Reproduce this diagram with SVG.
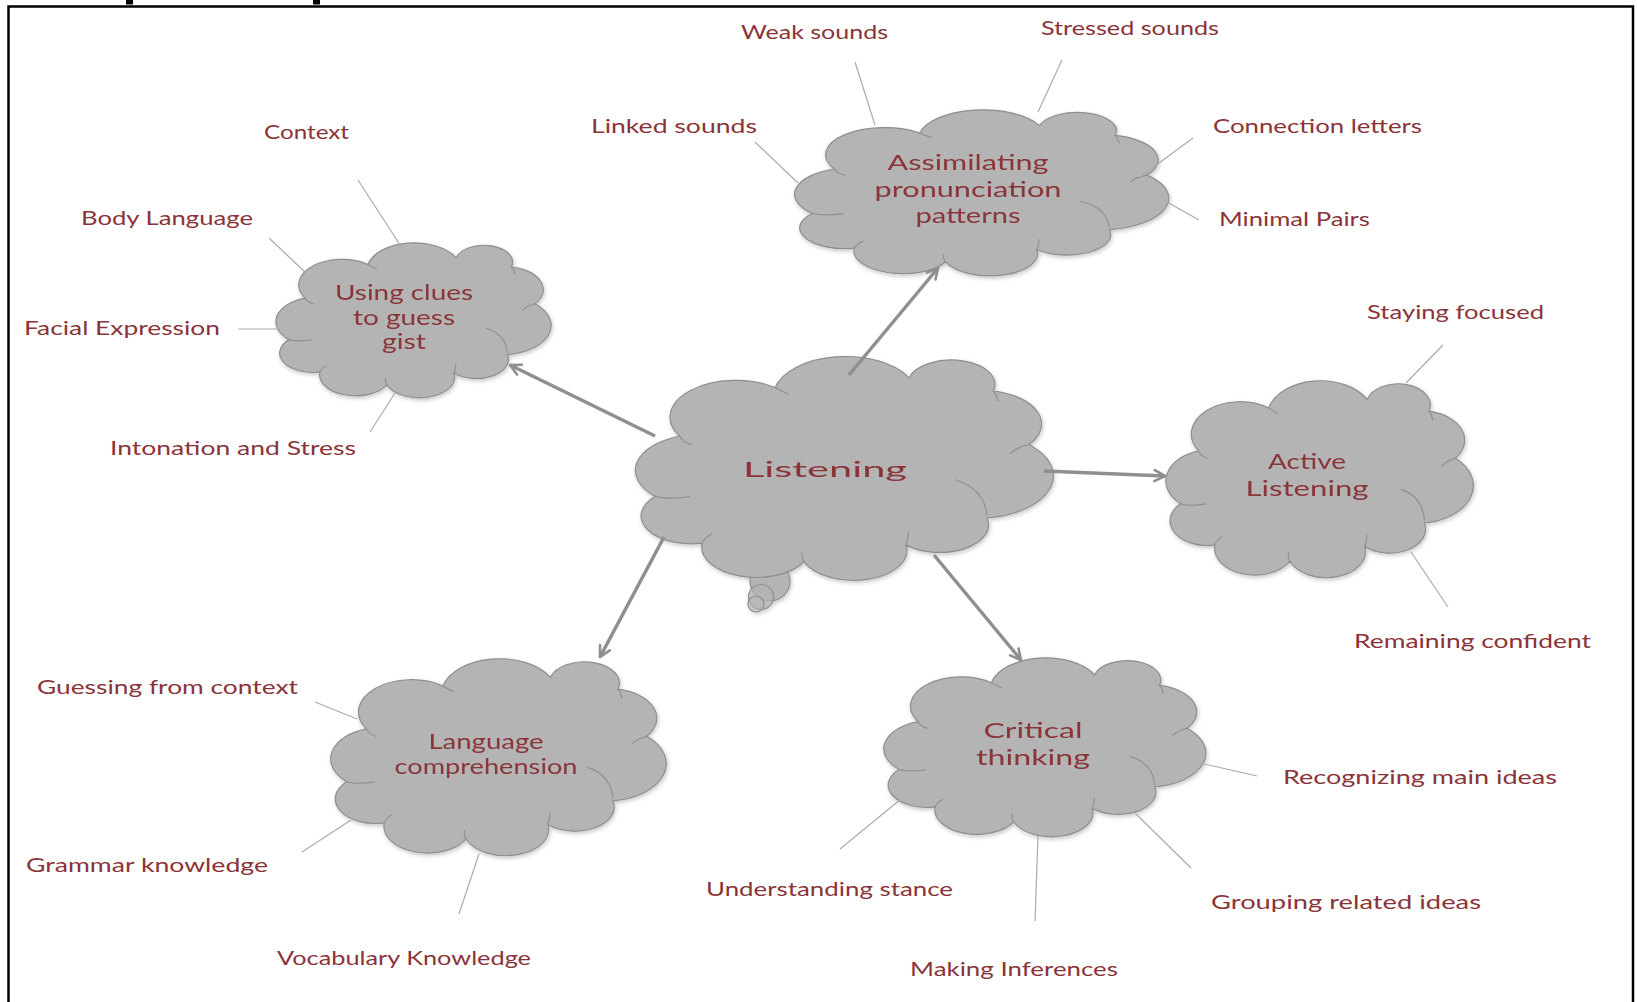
<svg xmlns="http://www.w3.org/2000/svg" width="1637" height="1002" viewBox="0 0 1637 1002">
  <style>
    .cloud { fill: #b4b4b4; stroke: #8e8e8e; stroke-width: 1.2; }
    .crease { fill: none; stroke: #8e8e8e; stroke-width: 1.1; }
    .node-text { font-family: Lato, "Open Sans", sans-serif; fill: #8a3439; font-size: 21px; text-anchor: middle; }
    .label { font-family: Lato, "Open Sans", sans-serif; fill: #8a3439; font-size: 20px; }
    .arrow { stroke: #8f8f8f; stroke-width: 3.5; fill: none; marker-end: url(#head); }
    .leaf { stroke: #ababab; stroke-width: 1.2; fill: none; }
  </style>
  <defs>
    <!-- cloud outline in a 100x100 box, scaled per node -->
    <path id="cloud-shape" class="cloud" vector-effect="non-scaling-stroke"
      d="M 8.9 33.6 A 16.4 16.4 0 0 1 32.7 11.9 A 18 18 0 0 1 66.1 7.5 A 10.9 10.9 0 0 1 87.1 13.4 A 15 15 0 0 1 96 37.3 A 19 19 0 0 1 85.5 70.1 A 12.2 12.2 0 0 1 65.3 82.1 A 13.3 13.3 0 0 1 39.9 89.6 A 13.6 13.6 0 0 1 14.5 81.3 A 12.5 12.5 0 0 1 2.8 60.4 A 16 16 0 0 1 8.9 33.6 Z"/>
    <path id="cloud-creases" class="crease" vector-effect="non-scaling-stroke"
      d="M 2.8 60.4 Q 6 62 11.5 60.5 M 8.9 33.6 Q 9.5 36 12 37.5 M 32.7 11.9 Q 34 13 36 14.8 M 87.1 13.4 Q 88 15 88.3 18 M 96 37.3 Q 93 38.5 91.3 41.5 M 77.5 53 Q 85 57 85.5 69 M 65.3 82.1 Q 66 79 66 76 M 39.9 89.6 Q 39 87 39.5 85 M 14.5 81.3 Q 15 79 17 77"/>
    <filter id="soft-shadow" x="-10%" y="-10%" width="120%" height="130%">
      <feDropShadow dx="1" dy="2" stdDeviation="2" flood-color="#000" flood-opacity="0.22"/>
    </filter>
    <marker id="head" viewBox="0 0 14 14" refX="12" refY="7" markerWidth="14" markerHeight="14" markerUnits="userSpaceOnUse" orient="auto">
      <path d="M1.5,1.5 L12,7 L1.5,12.5" fill="none" stroke="#8f8f8f" stroke-width="2.6" stroke-linecap="round" stroke-linejoin="round"/>
    </marker>
  </defs>

  <rect width="1637" height="1002" fill="#ffffff"/>

  <!-- frame and clipped heading strokes -->
  <path d="M8.5,1002 V6.5 H1633 V1002" fill="none" stroke="#000" stroke-width="2.5"/>
  <rect x="126" y="0" width="7" height="4.5" fill="#000"/>
  <rect x="313" y="0" width="7" height="4.5" fill="#000"/>

  <!-- central node -->
  <g id="node-listening" filter="url(#soft-shadow)">
    <circle cx="770" cy="581" r="20" class="cloud"/>
    <use href="#cloud-shape" transform="translate(644,361) scale(4.01,2.24)"/>
    <use href="#cloud-creases" transform="translate(644,361) scale(4.01,2.24)"/>
    <circle cx="761" cy="597" r="12.5" class="cloud" fill-opacity="0.75"/>
    <circle cx="756" cy="604" r="8" class="cloud" fill-opacity="0.6"/>
    <text class="node-text" x="825" y="477" font-size="35" textLength="164" lengthAdjust="spacingAndGlyphs">Listening</text>
  </g>

  <g id="node-clues" filter="url(#soft-shadow)">
    <use href="#cloud-shape" transform="translate(281.6,246) scale(2.64,1.55)"/>
    <use href="#cloud-creases" transform="translate(281.6,246) scale(2.64,1.55)"/>
    <text class="node-text" x="404" y="300" textLength="138" lengthAdjust="spacingAndGlyphs">Using clues</text>
    <text class="node-text" x="404" y="325" textLength="102" lengthAdjust="spacingAndGlyphs">to guess</text>
    <text class="node-text" x="404" y="349" textLength="44" lengthAdjust="spacingAndGlyphs">gist</text>
  </g>

  <g id="node-pronunciation" filter="url(#soft-shadow)">
    <use href="#cloud-shape" transform="translate(802.3,113.2) scale(3.59,1.66)"/>
    <use href="#cloud-creases" transform="translate(802.3,113.2) scale(3.59,1.66)"/>
    <text class="node-text" x="968" y="170" textLength="161" lengthAdjust="spacingAndGlyphs">Assimilating</text>
    <text class="node-text" x="968" y="197" textLength="187" lengthAdjust="spacingAndGlyphs">pronunciation</text>
    <text class="node-text" x="968" y="223" textLength="105" lengthAdjust="spacingAndGlyphs">patterns</text>
  </g>

  <g id="node-active" filter="url(#soft-shadow)">
    <use href="#cloud-shape" transform="translate(1172.2,384.7) scale(2.95,1.97)"/>
    <use href="#cloud-creases" transform="translate(1172.2,384.7) scale(2.95,1.97)"/>
    <text class="node-text" x="1307" y="469" textLength="78" lengthAdjust="spacingAndGlyphs">Active</text>
    <text class="node-text" x="1307" y="496" textLength="123" lengthAdjust="spacingAndGlyphs">Listening</text>
  </g>

  <g id="node-critical" filter="url(#soft-shadow)">
    <use href="#cloud-shape" transform="translate(890.4,661.4) scale(3.09,1.79)"/>
    <use href="#cloud-creases" transform="translate(890.4,661.4) scale(3.09,1.79)"/>
    <text class="node-text" x="1033" y="738" textLength="99" lengthAdjust="spacingAndGlyphs">Critical</text>
    <text class="node-text" x="1033" y="765" textLength="114" lengthAdjust="spacingAndGlyphs">thinking</text>
  </g>

  <g id="node-language" filter="url(#soft-shadow)">
    <use href="#cloud-shape" transform="translate(337.6,662.7) scale(3.22,1.97)"/>
    <use href="#cloud-creases" transform="translate(337.6,662.7) scale(3.22,1.97)"/>
    <text class="node-text" x="486" y="749" textLength="115" lengthAdjust="spacingAndGlyphs">Language</text>
    <text class="node-text" x="486" y="774" textLength="183" lengthAdjust="spacingAndGlyphs">comprehension</text>
  </g>

  <!-- connectors: arrows from the centre, thin lines to the leaf labels -->
  <g id="connectors">
    <line class="arrow" x1="655" y1="436" x2="510" y2="365"/>
    <line class="arrow" x1="849" y1="375" x2="938" y2="268"/>
    <line class="arrow" x1="1044" y1="471" x2="1165" y2="476"/>
    <line class="arrow" x1="934" y1="555" x2="1021" y2="660"/>
    <line class="arrow" x1="664" y1="537" x2="600" y2="657"/>

    <line class="leaf" x1="358" y1="180" x2="402" y2="248"/>
    <line class="leaf" x1="269" y1="238" x2="306" y2="273"/>
    <line class="leaf" x1="238" y1="329" x2="280" y2="329" stroke="#c4c4c4" stroke-width="2"/>
    <line class="leaf" x1="395" y1="393" x2="370" y2="432"/>
    <line class="leaf" x1="755" y1="142" x2="798" y2="183"/>
    <line class="leaf" x1="855" y1="62" x2="875" y2="125"/>
    <line class="leaf" x1="1062" y1="60" x2="1038" y2="112"/>
    <line class="leaf" x1="1193" y1="138" x2="1140" y2="177"/>
    <line class="leaf" x1="1199" y1="220" x2="1167" y2="202"/>
    <line class="leaf" x1="1443" y1="345" x2="1406" y2="383"/>
    <line class="leaf" x1="1411" y1="552" x2="1448" y2="607"/>
    <line class="leaf" x1="315" y1="702" x2="357" y2="719"/>
    <line class="leaf" x1="302" y1="852" x2="351" y2="820"/>
    <line class="leaf" x1="459" y1="914" x2="479" y2="854"/>
    <line class="leaf" x1="1200" y1="763" x2="1257" y2="776"/>
    <line class="leaf" x1="1135" y1="813" x2="1191" y2="868"/>
    <line class="leaf" x1="1038" y1="836" x2="1035" y2="921"/>
    <line class="leaf" x1="901" y1="799" x2="840" y2="849"/>
  </g>

  <!-- leaf labels -->
  <g id="labels">
    <text class="label" x="741" y="39" textLength="147" lengthAdjust="spacingAndGlyphs">Weak sounds</text>
    <text class="label" x="1041" y="35" textLength="178" lengthAdjust="spacingAndGlyphs">Stressed sounds</text>
    <text class="label" x="591" y="133" textLength="166" lengthAdjust="spacingAndGlyphs">Linked sounds</text>
    <text class="label" x="1213" y="133" textLength="209" lengthAdjust="spacingAndGlyphs">Connection letters</text>
    <text class="label" x="1219" y="226" textLength="151" lengthAdjust="spacingAndGlyphs">Minimal Pairs</text>
    <text class="label" x="264" y="139" textLength="85" lengthAdjust="spacingAndGlyphs">Context</text>
    <text class="label" x="81" y="225" textLength="172" lengthAdjust="spacingAndGlyphs">Body Language</text>
    <text class="label" x="24" y="335" textLength="196" lengthAdjust="spacingAndGlyphs">Facial Expression</text>
    <text class="label" x="110" y="455" textLength="246" lengthAdjust="spacingAndGlyphs">Intonation and Stress</text>
    <text class="label" x="1367" y="319" textLength="177" lengthAdjust="spacingAndGlyphs">Staying focused</text>
    <text class="label" x="1354" y="648" textLength="237" lengthAdjust="spacingAndGlyphs">Remaining confident</text>
    <text class="label" x="37" y="694" textLength="261" lengthAdjust="spacingAndGlyphs">Guessing from context</text>
    <text class="label" x="26" y="872" textLength="242" lengthAdjust="spacingAndGlyphs">Grammar knowledge</text>
    <text class="label" x="277" y="965" textLength="254" lengthAdjust="spacingAndGlyphs">Vocabulary Knowledge</text>
    <text class="label" x="706" y="896" textLength="247" lengthAdjust="spacingAndGlyphs">Understanding stance</text>
    <text class="label" x="910" y="976" textLength="208" lengthAdjust="spacingAndGlyphs">Making Inferences</text>
    <text class="label" x="1283" y="784" textLength="274" lengthAdjust="spacingAndGlyphs">Recognizing main ideas</text>
    <text class="label" x="1211" y="909" textLength="270" lengthAdjust="spacingAndGlyphs">Grouping related ideas</text>
  </g>
</svg>
